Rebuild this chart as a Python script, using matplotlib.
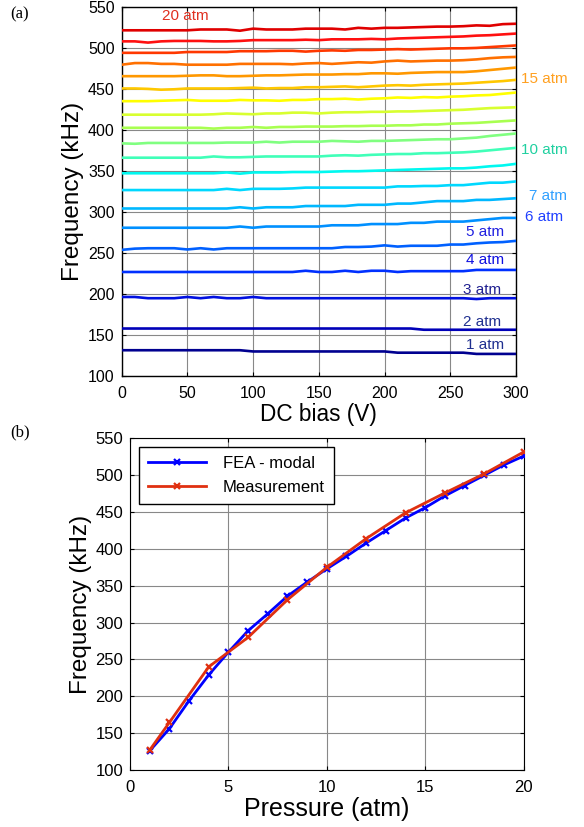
import matplotlib
matplotlib.use("Agg")
import matplotlib.pyplot as plt
import numpy as np

plt.rcParams['font.family'] = ['Liberation Sans', 'DejaVu Sans']

# ---------------- data: panel (a) ----------------
dc_bias = list(range(0, 301, 10))  # V

pressures_a = list(range(1, 21))  # atm

f_1 = [131.5]*10 + [130]*11 + [128.5]*6 + [127]*4
f_2 = [158]*23 + [156.5]*8
f_3 = [196.5, 196.5, 195, 195, 195, 196.5, 195, 196.5, 195, 195, 196.5, 195, 195, 195, 195, 195,
       195, 195, 195, 195, 195, 195, 195, 195, 195, 195, 195, 194, 195, 195, 195]
f_4 = [227, 227, 227, 227, 227, 227, 227, 227, 227, 227, 227, 227, 227, 227, 228.5, 227,
       227, 228.5, 227, 228.5, 228.5, 227, 228, 228, 228, 228, 228, 229.5, 229.5, 229.5, 229.5]
f_5 = [254, 255.5, 256, 256, 256, 254.5, 256, 254.5, 256, 256, 256, 256, 256, 256, 256, 256,
       256, 257.5, 257.5, 258, 259.5, 258, 259, 259, 259, 260.5, 260.5, 262, 263, 263.5, 265]
f_6 = [281, 281, 281, 281, 281, 281, 281, 281, 281, 282.5, 281, 282.5, 282.5, 282.5, 282.5, 282.5,
       284, 284, 284, 285.5, 285.5, 285.5, 287, 287, 288.5, 288.5, 288.5, 290, 291.5, 293, 293]
f_7 = [304.5, 304.5, 304.5, 304.5, 304.5, 304.5, 304.5, 304.5, 304.5, 306, 304.5, 306, 306, 306,
       307.5, 307.5, 307.5, 307.5, 309, 309, 309, 310.5, 310.5, 312, 313.5, 313.5, 313.5, 315,
       315, 316, 317]
f_8 = [327, 327, 327, 327, 327, 327, 327, 327, 328.5, 327, 328.5, 328.5, 328.5, 329, 330, 330,
       330, 330, 330, 330, 330, 331.5, 331.5, 332, 332, 333, 333, 334.5, 336, 336, 337.5]
f_9 = [347.5, 347.5, 347.5, 347.5, 347.5, 347.5, 347.5, 347.5, 348.5, 347, 348.5, 348.5, 348.5,
       349, 349, 349, 349.5, 350, 350, 350.5, 351, 351.5, 352, 352.5, 353, 353.5, 353.5, 354.5,
       356, 357, 359]
f_10 = [366.5, 366.5, 366.5, 366.5, 366.5, 366.5, 366.5, 368, 367, 367, 367.5, 368, 368, 368, 368,
        368, 369, 369.5, 369, 370, 370.5, 371, 371, 372, 372, 372.5, 373, 374, 375.5, 377, 378.5]
f_11 = [384, 383.5, 384.5, 384.5, 384.5, 384.5, 384.5, 384.5, 385, 385, 385, 386, 385, 386, 386,
        386, 387, 386.5, 386, 387, 387, 387.5, 388, 388.5, 389, 389, 390, 391, 393, 394.5, 396]
f_12 = [403, 403, 403, 403, 403, 403, 403, 402, 403, 403, 404, 403, 404, 404, 404.5, 404.5, 404.5,
        405, 405, 405.5, 405.5, 406, 406, 407, 407, 408, 408.5, 409, 410, 411, 412]
f_13 = [419, 419, 419, 419, 419, 419, 419, 419.5, 420.5, 420, 419.5, 420.5, 420.5, 421.5, 421.5,
        420.5, 421.5, 422, 422, 422.5, 422.5, 423, 423, 423.5, 424, 424.5, 425, 426, 427, 427.5, 428]
f_14 = [435.5, 435.5, 435.5, 436, 436.5, 437, 436, 436, 436, 437, 436.5, 436.5, 436, 437, 437,
        438, 438, 438.5, 437.5, 438.5, 439, 440, 439.5, 440.5, 440, 441, 441.5, 442.5, 443, 444.5, 446]
f_15 = [451, 451, 450.5, 449.5, 450, 451, 451, 451, 451, 451.5, 452, 451, 451.5, 451.5, 452.5,
        452.5, 453, 453.5, 452.5, 453.5, 454.5, 455, 454.5, 455.5, 456, 456.5, 457, 458, 459, 460, 461.5]
f_16 = [466, 466, 466, 466, 466, 466.5, 467, 467, 466, 466, 466.5, 467, 467, 467.5, 468, 468, 468,
        468.5, 468.5, 469.5, 469.5, 469, 470, 470.5, 471, 471, 471, 472, 473.5, 475, 476.5]
f_17 = [480, 482, 482, 481, 481, 480, 480, 480, 480, 481, 481, 481, 481, 480.5, 481.5, 482, 481,
        482, 483, 482.5, 484, 485, 484, 484.5, 485, 485, 485.5, 486.5, 488, 489, 489.5]
f_18 = [494.5, 494.5, 494.5, 494.5, 494.5, 495.5, 495.5, 495.5, 495.5, 496.5, 496.5, 496.5, 497,
        497, 496, 497, 497.5, 497, 498, 498, 498.5, 499, 498.5, 499, 499.5, 500, 500, 500.5, 501.5,
        502.5, 503.5]
f_19 = [508.5, 508.5, 507, 508.5, 509, 509, 509, 508.5, 508.5, 509, 510, 510, 510, 510, 510.5, 510,
        511, 511, 511, 511.5, 511, 512, 512.5, 513, 513.5, 514, 514.5, 515.5, 516, 517, 518]
f_20 = [522, 522, 522, 522, 522, 522, 523, 523, 523, 521.5, 524, 523, 523, 523, 524, 524, 524, 523,
        525, 524, 525, 525, 525.5, 526, 526.5, 526.5, 527, 528, 527.5, 529.5, 530]

freq_a = [f_1, f_2, f_3, f_4, f_5, f_6, f_7, f_8, f_9, f_10,
          f_11, f_12, f_13, f_14, f_15, f_16, f_17, f_18, f_19, f_20]

# ---------------- data: panel (b) ----------------
pressure_fea = list(range(1, 21))
freq_fea = [126, 156, 194, 229, 260, 289, 312, 336, 355, 373,
            390, 408, 425, 442, 456, 472, 486, 500, 514, 526]
pressure_meas = [1, 2, 4, 6, 8, 10, 12, 14, 16, 18, 20]
freq_meas = [127, 164.5, 240, 280, 331, 375, 414, 449, 476, 502, 531.5]

# ---------------- styles ----------------
line_colors = ['#000090', '#0000b8', '#0010e0', '#0030ff', '#0060ff', '#0090ff', '#00b8ff',
               '#00d8ff', '#00f8f0', '#40ffb8', '#80ff80', '#a8ff50', '#d8ff30', '#ffff00',
               '#ffc800', '#ff9800', '#ff7000', '#ff3800', '#ff1010', '#e00000']

labels_a = {1: ('1 atm', 262, 137.8, '#203090'), 2: ('2 atm', 260, 165.9, '#203090'),
            3: ('3 atm', 260, 204.9, '#202090'), 4: ('4 atm', 262, 241.5, '#1010e0'),
            5: ('5 atm', 262, 275.6, '#2020e0'), 6: ('6 atm', 307, 294, '#2040ff'),
            7: ('7 atm', 310, 319.5, '#30a0ff'), 10: ('10 atm', 304, 375.6, '#20d0a0'),
            15: ('15 atm', 304, 462, '#ffa020'), 20: ('20 atm', 31, 540, '#e03020')}

fig = plt.figure(figsize=(5.84, 8.27), dpi=100)

grid_kw = dict(color='#888888', linewidth=0.8, linestyle='-')

# ---------------- panel (a) ----------------
ax1 = fig.add_axes([0.2084, 0.5453, 0.675, 0.4458])
for p, vals, c in zip(pressures_a, freq_a, line_colors):
    ax1.plot(dc_bias, vals, color=c, linewidth=1.9, zorder=3)
for p, (txt, x, y, c) in labels_a.items():
    ax1.text(x, y, txt, color=c, fontsize=11, ha='left', va='center', clip_on=False)
ax1.set_xlim(0, 300)
ax1.set_ylim(100, 550)
ax1.set_xticks(range(0, 301, 50))
ax1.set_yticks(range(100, 551, 50))
ax1.grid(True, **grid_kw)
ax1.set_axisbelow(True)
ax1.tick_params(direction='in', top=True, right=True, labelsize=11.5, length=3)
ax1.tick_params(axis='x', pad=7.5)
ax1.tick_params(axis='y', pad=5)
ax1.set_xlabel('DC bias (V)', fontsize=16.3, labelpad=1)
ax1.set_ylabel('Frequency (kHz)', fontsize=17.5, labelpad=3)
for s in ax1.spines.values():
    s.set_linewidth(1.0)

# ---------------- panel (b) ----------------
ax2 = fig.add_axes([0.2226, 0.0689, 0.674, 0.401])
ax2.plot(pressure_fea, freq_fea, color='#0000ff', linewidth=2, marker='x', markersize=5,
         markeredgewidth=1.6, label='FEA - modal', zorder=3)
ax2.plot(pressure_meas, freq_meas, color='#e03010', linewidth=2, marker='x', markersize=5,
         markeredgewidth=1.6, label='Measurement', zorder=4)
ax2.set_xlim(0, 20)
ax2.set_ylim(100, 550)
ax2.set_xticks(range(0, 21, 5))
ax2.set_yticks(range(100, 551, 50))
ax2.grid(True, **grid_kw)
ax2.set_axisbelow(True)
ax2.tick_params(direction='in', top=True, right=True, labelsize=12, length=3)
ax2.tick_params(axis='x', pad=7.5)
ax2.tick_params(axis='y', pad=5)
ax2.set_xlabel('Pressure (atm)', fontsize=18, labelpad=1)
ax2.set_ylabel('Frequency (kHz)', fontsize=17.5, labelpad=2.5)
leg = ax2.legend(loc='upper left', bbox_to_anchor=(0.022, 0.975), fontsize=12, frameon=True,
                 fancybox=False, edgecolor='black', framealpha=1, handlelength=3.5,
                 handletextpad=1.0, borderpad=0.55, labelspacing=0.55, borderaxespad=0)
leg.get_frame().set_linewidth(1.0)

fig.text(10 / 584, 1 - 14 / 827, '(a)', family=['Liberation Serif'], fontsize=12, va='center')
fig.text(10 / 584, 1 - 432 / 827, '(b)', family=['Liberation Serif'], fontsize=12, va='center')

fig.savefig('out.png', dpi=100)
